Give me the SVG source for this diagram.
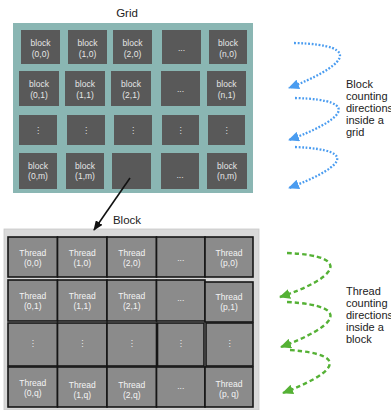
<svg xmlns="http://www.w3.org/2000/svg" width="391" height="410" viewBox="0 0 391 410">
  <style>
    .title { font-family: "Liberation Sans", Arial, sans-serif; font-size: 11.5px; fill: #222; text-anchor: middle; }
    .note { font-family: "Liberation Sans", Arial, sans-serif; font-size: 11px; fill: #222; }
    .blk { fill: #595959; }
    .thr { fill: #8b8b8b; stroke: #161616; stroke-width: 1.6; }
    .bt { font-family: "Liberation Sans", Arial, sans-serif; font-size: 8.5px; fill: #e6e6e6; text-anchor: middle; }
    .tt { font-family: "Liberation Sans", Arial, sans-serif; font-size: 8.5px; fill: #f4f4f4; text-anchor: middle; }
    .vd { font-family: "DejaVu Sans", sans-serif; font-size: 8px; text-anchor: middle; }
    .blue { fill: none; stroke: #4a9cf0; stroke-width: 2.3; stroke-dasharray: 1.8 1.7; }
    .green { fill: none; stroke: #55b135; stroke-width: 2.4; stroke-dasharray: 4.5 3; }
  </style>
  <defs>
    <marker id="ahBlack" markerWidth="10" markerHeight="8" refX="9" refY="4" orient="auto" markerUnits="userSpaceOnUse">
      <path d="M0,0 L10,4 L0,8 z" fill="#111"/>
    </marker>
    <marker id="ahBlue" markerWidth="11" markerHeight="10" refX="10" refY="5" orient="auto" markerUnits="userSpaceOnUse">
      <path d="M0,0 L11,5 L0,10 z" fill="#4a9cf0"/>
    </marker>
    <marker id="ahGreen" markerWidth="11" markerHeight="10" refX="10" refY="5" orient="auto" markerUnits="userSpaceOnUse">
      <path d="M0,0 L11,5 L0,10 z" fill="#55b135"/>
    </marker>
  </defs>

  <!-- Grid of blocks -->
  <g id="grid">
    <text class="title" x="127" y="17">Grid</text>
    <rect x="13" y="23" width="240" height="170" fill="#8ab6b3"/>
  </g>

  <g id="block-0-0"><rect class="blk" x="21" y="30" width="39" height="34"/><text class="bt" x="40.5" y="46">block</text><text class="bt" x="40.5" y="57">(0,0)</text></g>
  <g id="block-1-0"><rect class="blk" x="68" y="30" width="39" height="34"/><text class="bt" x="87.5" y="46">block</text><text class="bt" x="87.5" y="57">(1,0)</text></g>
  <g id="block-2-0"><rect class="blk" x="113" y="30" width="39" height="34"/><text class="bt" x="132.5" y="46">block</text><text class="bt" x="132.5" y="57">(2,0)</text></g>
  <g id="block-d-0"><rect class="blk" x="162" y="30" width="39" height="34"/><text class="bt" x="181.5" y="51">...</text></g>
  <g id="block-n-0"><rect class="blk" x="209" y="30" width="38" height="34"/><text class="bt" x="228" y="46">block</text><text class="bt" x="228" y="57">(n,0)</text></g>

  <g id="block-0-1"><rect class="blk" x="19" y="71" width="40" height="35"/><text class="bt" x="39" y="87">block</text><text class="bt" x="39" y="97.5">(0,1)</text></g>
  <g id="block-1-1"><rect class="blk" x="65" y="71" width="40" height="35"/><text class="bt" x="85" y="87">block</text><text class="bt" x="85" y="97.5">(1,1)</text></g>
  <g id="block-2-1"><rect class="blk" x="111" y="71" width="40" height="35"/><text class="bt" x="131" y="87">block</text><text class="bt" x="131" y="97.5">(2,1)</text></g>
  <g id="block-d-1"><rect class="blk" x="161" y="71" width="39" height="35"/><text class="bt" x="180.5" y="92">...</text></g>
  <g id="block-n-1"><rect class="blk" x="207" y="71" width="39" height="35"/><text class="bt" x="226.5" y="87">block</text><text class="bt" x="226.5" y="97.5">(n,1)</text></g>

  <g id="block-0-d"><rect class="blk" x="19" y="115" width="38" height="30"/><text class="bt vd" x="38" y="133">⋮</text></g>
  <g id="block-1-d"><rect class="blk" x="67" y="115" width="38" height="30"/><text class="bt vd" x="86" y="133">⋮</text></g>
  <g id="block-2-d"><rect class="blk" x="114" y="115" width="38" height="30"/><text class="bt vd" x="133" y="133">⋮</text></g>
  <g id="block-d-d"><rect class="blk" x="162" y="115" width="37" height="30"/><text class="bt vd" x="180.5" y="133">⋮</text></g>
  <g id="block-n-d"><rect class="blk" x="208" y="115" width="37" height="30"/><text class="bt vd" x="226.5" y="133">⋮</text></g>

  <g id="block-0-m"><rect class="blk" x="19" y="153" width="38" height="36"/><text class="bt" x="38" y="169">block</text><text class="bt" x="38" y="179">(0,m)</text></g>
  <g id="block-1-m"><rect class="blk" x="66" y="153" width="38" height="36"/><text class="bt" x="85" y="169">block</text><text class="bt" x="85" y="179">(1,m)</text></g>
  <g id="block-2-m"><rect class="blk" x="112" y="153" width="39" height="36"/></g>
  <g id="block-d-m"><rect class="blk" x="161" y="153" width="38" height="36"/><text class="bt" x="180" y="178">...</text></g>
  <g id="block-n-m"><rect class="blk" x="207" y="153" width="40" height="36"/><text class="bt" x="227" y="169">block</text><text class="bt" x="227" y="179">(n,m)</text></g>

  <!-- Block of threads -->
  <g id="block">
    <text class="title" x="127" y="224">Block</text>
    <rect x="4" y="229" width="255" height="181" fill="#d9d9d9" stroke="#c8c8c8" stroke-width="0.8"/>
  </g>

  <g id="thread-0-0"><rect class="thr" x="8" y="237" width="49.5" height="40"/><text class="tt" x="32.75" y="255.5">Thread</text><text class="tt" x="32.75" y="265.5">(0,0)</text></g>
  <g id="thread-1-0"><rect class="thr" x="57.5" y="237" width="49.5" height="40"/><text class="tt" x="82.25" y="255.5">Thread</text><text class="tt" x="82.25" y="265.5">(1,0)</text></g>
  <g id="thread-2-0"><rect class="thr" x="107" y="237" width="49.5" height="40"/><text class="tt" x="131.75" y="255.5">Thread</text><text class="tt" x="131.75" y="265.5">(2,0)</text></g>
  <g id="thread-d-0"><rect class="thr" x="156.5" y="237" width="48.5" height="40"/><text class="tt" x="180.75" y="261">...</text></g>
  <g id="thread-p-0"><rect class="thr" x="205" y="237" width="48" height="40"/><text class="tt" x="229" y="255.5">Thread</text><text class="tt" x="229" y="265.5">(p,0)</text></g>

  <g id="thread-0-1"><rect class="thr" x="8" y="280" width="49.5" height="41"/><text class="tt" x="32.75" y="299">Thread</text><text class="tt" x="32.75" y="309">(0,1)</text></g>
  <g id="thread-1-1"><rect class="thr" x="57.5" y="280" width="49.5" height="41"/><text class="tt" x="82.25" y="299">Thread</text><text class="tt" x="82.25" y="309">(1,1)</text></g>
  <g id="thread-2-1"><rect class="thr" x="107" y="280" width="49.5" height="41"/><text class="tt" x="131.75" y="299">Thread</text><text class="tt" x="131.75" y="309">(2,1)</text></g>
  <g id="thread-d-1"><rect class="thr" x="156.5" y="280" width="48.5" height="41"/><text class="tt" x="180.75" y="301">...</text></g>
  <g id="thread-p-1"><rect class="thr" x="205" y="282" width="48" height="40"/><text class="tt" x="229" y="300">Thread</text><text class="tt" x="229" y="310">(p,1)</text></g>

  <g id="thread-0-d"><rect class="thr" x="8" y="323" width="49.5" height="43"/><text class="tt vd" x="32.75" y="346">⋮</text></g>
  <g id="thread-1-d"><rect class="thr" x="57.5" y="323" width="49.5" height="43"/><text class="tt vd" x="82.25" y="346">⋮</text></g>
  <g id="thread-2-d"><rect class="thr" x="107" y="323" width="49.5" height="43"/><text class="tt vd" x="131.75" y="346">⋮</text></g>
  <g id="thread-d-d"><rect class="thr" x="157.5" y="323" width="46.5" height="43"/><text class="tt vd" x="180.75" y="346">⋮</text></g>
  <g id="thread-p-d"><rect class="thr" x="206" y="323" width="47" height="43"/><text class="tt vd" x="229.5" y="346">⋮</text></g>

  <g id="thread-0-q"><rect class="thr" x="8" y="367" width="49.5" height="40"/><text class="tt" x="32.75" y="386">Thread</text><text class="tt" x="32.75" y="396">(0,q)</text></g>
  <g id="thread-1-q"><rect class="thr" x="57.5" y="367" width="49.5" height="40"/><text class="tt" x="82.25" y="387.5">Thread</text><text class="tt" x="82.25" y="397.5">(1,q)</text></g>
  <g id="thread-2-q"><rect class="thr" x="107" y="367" width="49.5" height="40"/><text class="tt" x="131.75" y="387.5">Thread</text><text class="tt" x="131.75" y="397.5">(2,q)</text></g>
  <g id="thread-d-q"><rect class="thr" x="156.5" y="367" width="48.5" height="40"/><text class="tt" x="180.75" y="389">...</text></g>
  <g id="thread-p-q"><rect class="thr" x="205" y="367" width="48" height="40"/><text class="tt" x="229" y="386.5">Thread</text><text class="tt" x="229" y="396.5">(p, q)</text></g>

  <!-- Side notes -->
  <g id="note-grid">
    <text class="note" x="346" y="88">Block</text>
    <text class="note" x="346" y="100">counting</text>
    <text class="note" x="346" y="112">directions</text>
    <text class="note" x="346" y="124">inside a</text>
    <text class="note" x="346" y="136">grid</text>
  </g>
  <g id="note-block">
    <text class="note" x="346" y="295">Thread</text>
    <text class="note" x="346" y="307">counting</text>
    <text class="note" x="346" y="319">directions</text>
    <text class="note" x="346" y="331">inside a</text>
    <text class="note" x="346" y="343">block</text>
  </g>

  <!-- Connectors -->
  <g id="connectors">
    <line x1="130" y1="178" x2="94" y2="230" stroke="#111" stroke-width="1.6" marker-end="url(#ahBlack)"/>
    <path class="blue" d="M294,43 C370,45 340,68 289,88" marker-end="url(#ahBlue)"/>
    <path class="blue" d="M295,98 C368,100 338,122 289,140" marker-end="url(#ahBlue)"/>
    <path class="blue" d="M295,147 C366,150 336,170 289,188" marker-end="url(#ahBlue)"/>
    <path class="green" d="M287,253 C358,256 332,280 280,297" marker-end="url(#ahGreen)"/>
    <path class="green" d="M287,302 C358,306 332,328 281,347" marker-end="url(#ahGreen)"/>
    <path class="green" d="M290,350 C356,355 330,375 283,393" marker-end="url(#ahGreen)"/>
  </g>
</svg>
